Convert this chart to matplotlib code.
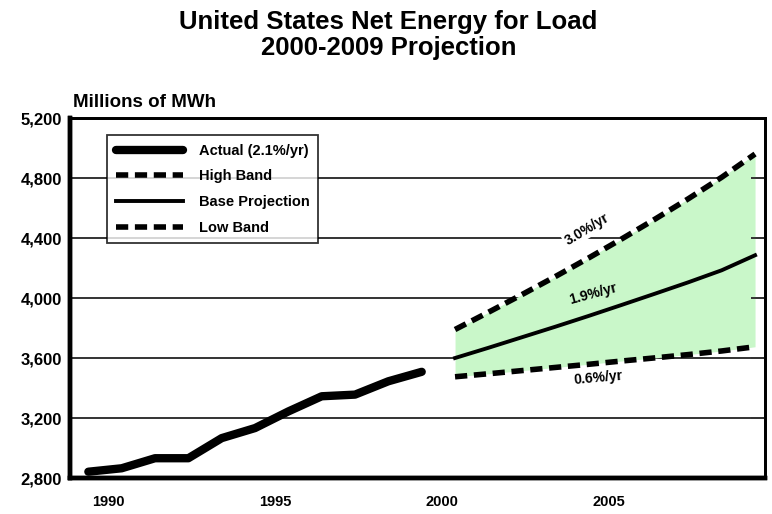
import matplotlib.pyplot as plt
import matplotlib.transforms as mtransforms

plt.rcParams['font.family'] = ['Liberation Sans', 'DejaVu Sans']
plt.rcParams['font.weight'] = 'bold'

# Net energy for load, millions of MWh
actual_years = [1989, 1990, 1991, 1992, 1993, 1994, 1995, 1996, 1997, 1998, 1999]
actual = [2842, 2865, 2932, 2932, 3066, 3133, 3244, 3345, 3356, 3445, 3508]

proj_years = [2000, 2001, 2002, 2003, 2004, 2005, 2006, 2007, 2008, 2009]
high_band = [3790, 3905, 4022, 4142, 4266, 4394, 4526, 4662, 4805, 4960]
base_proj = [3600, 3668, 3738, 3808, 3880, 3954, 4029, 4105, 4185, 4285]
low_band = [3475, 3495, 3516, 3537, 3558, 3580, 3601, 3623, 3647, 3675]

y_ticks = [2800, 3200, 3600, 4000, 4400, 4800, 5200]
x_ticks = [1990, 1995, 2000, 2005]

fig = plt.figure(figsize=(7.72, 5.14), dpi=100)
ax = fig.add_axes([0.0907, 0.070, 0.9003, 0.7004])

ax.set_xlim(1988.45, 2009.3)
ax.set_ylim(2800, 5200)

# gridlines sit under the band fill
for v in y_ticks[1:-1]:
    ax.axhline(v, color='#333333', lw=1.4, zorder=1)

ax.fill_between(proj_years, low_band, high_band, color='#c9f7c9', lw=0, zorder=2)

ax.plot(actual_years, actual, color='black', lw=6, solid_capstyle='round',
        label='Actual (2.1%/yr)', zorder=4)
ax.plot(proj_years, high_band, color='black', lw=4, ls=(0, (2.2, 1.2)),
        label='High Band', zorder=4)
ax.plot(proj_years, base_proj, color='black', lw=2.8, label='Base Projection', zorder=4)
ax.plot(proj_years, low_band, color='black', lw=4, ls=(0, (2.2, 1.2)),
        label='Low Band', zorder=4)

box = dict(facecolor='white', edgecolor='none', pad=1)
ax.text(2003.95, 4455, '3.0%/yr', rotation=31, ha='center', va='center',
        fontsize=10, bbox=box, zorder=5)
ax.text(2004.15, 4030, '1.9%/yr', rotation=15, ha='center', va='center',
        fontsize=10, zorder=5)
ax.text(2004.3, 3470, '0.6%/yr', rotation=5, ha='center', va='center',
        fontsize=10, zorder=5)

ax.set_yticks(y_ticks)
ax.set_yticklabels([f'{v:,}' for v in y_ticks], fontsize=12)
ax.set_xticks(x_ticks)
ax.set_xticklabels([str(v) for v in x_ticks], fontsize=10.5)
ax.tick_params(axis='x', length=0, pad=12)
ax.tick_params(axis='y', length=0, pad=6)
shift = mtransforms.ScaledTranslation(-13 / 100, 0, fig.dpi_scale_trans)
for lbl in ax.get_xticklabels():
    lbl.set_transform(lbl.get_transform() + shift)

# short inward ticks on the right edge
ax2 = ax.twinx()
ax2.set_ylim(ax.get_ylim())
ax2.set_yticks(y_ticks)
ax2.set_yticklabels([])
ax2.tick_params(axis='y', direction='in', length=10, width=1.4, color='#333333')

for side, w in [('left', 3.2), ('bottom', 3.2), ('top', 2), ('right', 2)]:
    ax.spines[side].set_linewidth(w)
    ax2.spines[side].set_linewidth(w)

leg = ax.legend(loc='upper left', bbox_to_anchor=(0.053, 0.953), fontsize=10.5,
                frameon=True, fancybox=False, handlelength=4.6, labelspacing=0.8,
                borderpad=0.6, handletextpad=1.1, borderaxespad=0)
leg.get_frame().set_edgecolor('black')
leg.get_frame().set_linewidth(1.3)
leg.set_zorder(6)

fig.text(0.095, 0.80, 'Millions of MWh', fontsize=13.5, ha='left', va='center')
fig.text(0.503, 0.932, 'United States Net Energy for Load\n2000-2009 Projection',
         fontsize=18.5, ha='center', va='center', linespacing=1.15)

fig.savefig('out.png', dpi=100)
